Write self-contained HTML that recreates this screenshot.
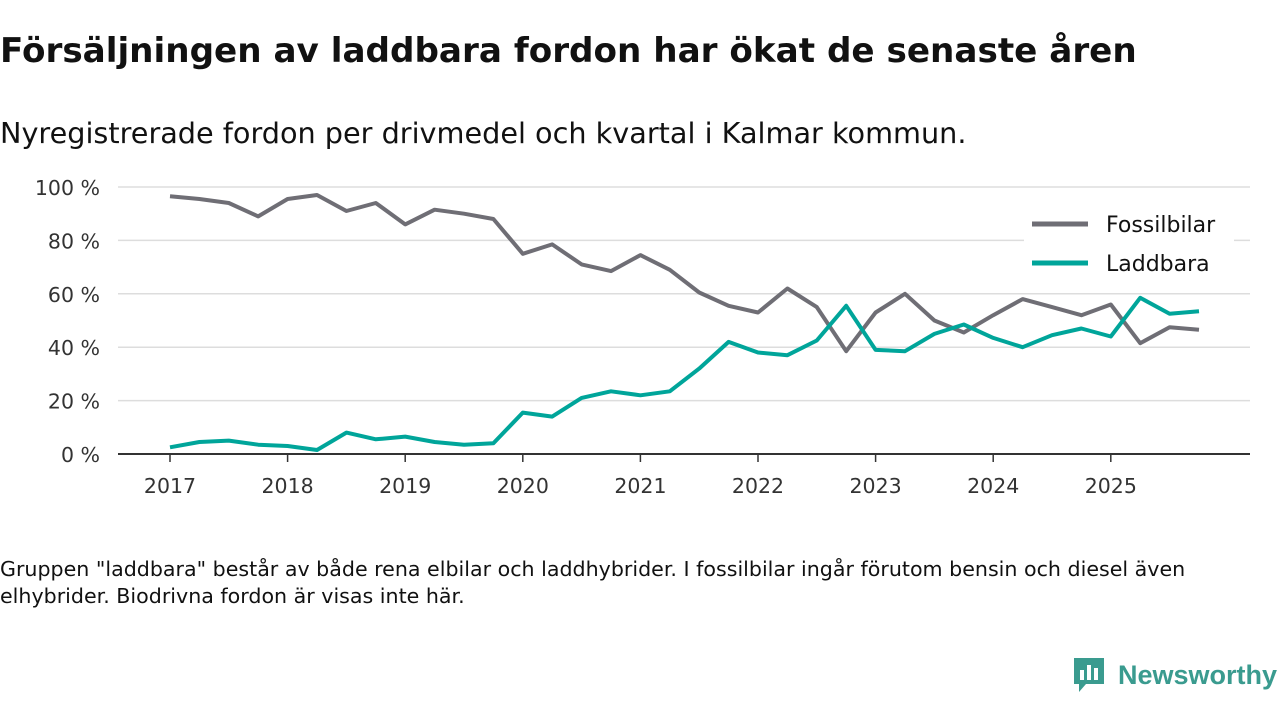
<!DOCTYPE html>
<html><head><meta charset="utf-8"><style>
body{margin:0;width:1280px;height:720px;background:#fff;font-family:"DejaVu Sans","Liberation Sans",sans-serif;color:#111;overflow:hidden;position:relative}
h1{position:absolute;left:0;top:31px;margin:0;font-size:34.2px;font-weight:bold;white-space:nowrap}
.sub{position:absolute;left:0;top:116px;font-size:28.7px;white-space:nowrap}
.note{position:absolute;left:0;top:556px;font-size:20.6px;line-height:27px;width:1260px}
.logo{position:absolute;left:1072px;top:656px;display:flex;align-items:center;color:#3a9b8f;font-size:27px;font-weight:bold;font-family:"Liberation Sans",sans-serif}
</style></head><body>
<h1>Försäljningen av laddbara fordon har ökat de senaste åren</h1>
<div class="sub">Nyregistrerade fordon per drivmedel och kvartal i Kalmar kommun.</div>
<svg id="chart" width="1280" height="720" style="position:absolute;left:0;top:0"></svg>
<div class="note">Gruppen "laddbara" består av både rena elbilar och laddhybrider. I fossilbilar ingår förutom bensin och diesel även elhybrider. Biodrivna fordon är visas inte här.</div>
<div class="logo"><svg width="34" height="38" viewBox="0 0 34 38"><path d="M2 2h30v26H14l-7 8v-8H2z" fill="#3a9b8f"/><rect x="8" y="14" width="4" height="10" fill="#fff"/><rect x="15" y="9" width="4" height="15" fill="#fff"/><rect x="22" y="12" width="4" height="12" fill="#fff"/></svg><span style="margin-left:12px">Newsworthy</span></div>
<script>
const years=[2017,2018,2019,2020,2021,2022,2023,2024,2025];
const yTicks=[0,20,40,60,80,100];
const fossil=[96.5,95.5,94,89,95.5,97,91,94,86,91.5,90,88,75,78.5,71,68.5,74.5,69,60.5,55.5,53,62,55,38.5,53,60,50,45.5,52,58,55,52,56,41.5,47.5,46.5];
const laddbara=[2.5,4.5,5,3.5,3,1.5,8,5.5,6.5,4.5,3.5,4,15.5,14,21,23.5,22,23.5,32,42,38,37,42.5,55.5,39,38.5,45,48.5,43.5,40,44.5,47,44,58.5,52.5,53.5];
const ns="http://www.w3.org/2000/svg";
const svg=document.getElementById('chart');
const X=t=>170+(t-2017)*117.6;
const Y=v=>454-v*2.67;
function mk(tag,attrs){const e=document.createElementNS(ns,tag);for(const k in attrs)e.setAttribute(k,attrs[k]);svg.appendChild(e);return e;}
yTicks.forEach(v=>{
 if(v>0){const g=mk('line',{x1:118,x2:1250,y1:Y(v),y2:Y(v),stroke:'#ddd','stroke-width':1.5});
 
 }
 const t=mk('text',{x:100,y:Y(v)+8,'text-anchor':'end','font-size':20.5,fill:'#333','font-family':'DejaVu Sans, sans-serif'});
 t.textContent=v+' %';
 
 
});
const ax=mk('line',{x1:118,x2:1250,y1:454,y2:454,stroke:'#333','stroke-width':2});


years.forEach(y=>{
 const tk=mk('line',{x1:X(y),x2:X(y),y1:454,y2:462,stroke:'#333','stroke-width':1.5});
 
 
 const t=mk('text',{x:X(y),y:493,'text-anchor':'middle','font-size':20.5,fill:'#333','font-family':'DejaVu Sans, sans-serif'});
 t.textContent=y;
 
 
});
function series(arr,color,name){
 const d=arr.map((v,i)=>(i?'L':'M')+X(2017+i/4).toFixed(1)+' '+Y(v).toFixed(1)).join(' ');
 const p=mk('path',{d:d,fill:'none',stroke:color,'stroke-width':4,'stroke-linejoin':'round'});
 
 
}
series(fossil,'#6f6e75','fossilbilar-line');
series(laddbara,'#00a59a','laddbara-line');
const bg=mk('rect',{x:1024,y:205,width:210,height:80,fill:'#fff'});


[['Fossilbilar','#6f6e75',224],['Laddbara','#00a59a',263]].forEach(([n,c,y])=>{
 const l=mk('line',{x1:1032,x2:1088,y1:y,y2:y,stroke:c,'stroke-width':5});
 
 
 const t=mk('text',{x:1106,y:y+8,'font-size':22,fill:'#111','font-family':'DejaVu Sans, sans-serif'});
 t.textContent=n;
 
 
});
</script>
</body></html>
